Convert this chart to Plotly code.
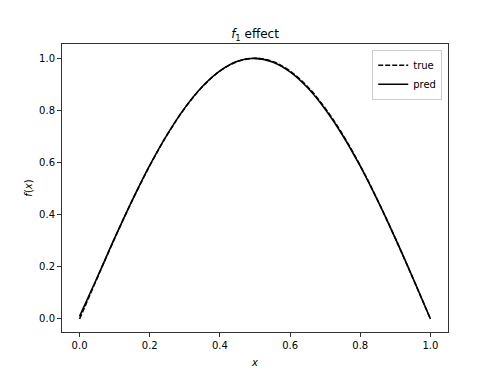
import plotly.graph_objects as go

x_vals = [0.0, 0.05, 0.1, 0.15, 0.2, 0.25, 0.3, 0.35, 0.4, 0.45, 0.5,
          0.55, 0.6, 0.65, 0.7, 0.75, 0.8, 0.85, 0.9, 0.95, 1.0]
true_vals = [0.0, 0.156, 0.309, 0.454, 0.588, 0.707, 0.809, 0.891, 0.951, 0.988, 1.0,
             0.988, 0.951, 0.891, 0.809, 0.707, 0.588, 0.454, 0.309, 0.156, 0.0]
pred_vals = [0.01, 0.158, 0.310, 0.455, 0.589, 0.708, 0.810, 0.892, 0.952, 0.989, 1.0,
             0.986, 0.948, 0.887, 0.805, 0.704, 0.586, 0.453, 0.309, 0.157, 0.0]
x_ticks = [0.0, 0.2, 0.4, 0.6, 0.8, 1.0]
y_ticks = [0.0, 0.2, 0.4, 0.6, 0.8, 1.0]

fig = go.Figure()
fig.add_trace(go.Scatter(x=x_vals, y=true_vals, mode="lines", name="true",
                         line=dict(color="black", width=1.6, dash="5px,2px", shape="spline")))
fig.add_trace(go.Scatter(x=x_vals, y=pred_vals, mode="lines", name="pred",
                         line=dict(color="black", width=1.6, shape="spline")))

axis_common = dict(showgrid=False, zeroline=False, showline=True, linecolor="#333333",
                   linewidth=1, mirror=True, ticks="outside", ticklen=4, tickwidth=1,
                   tickcolor="#333333", tickfont=dict(size=10, color="black"))
fig.update_layout(
    width=498, height=374,
    margin=dict(l=54, r=58, t=36, b=50),
    paper_bgcolor="white", plot_bgcolor="white",
    font=dict(family="DejaVu Sans", color="black"),
    title=dict(text="<i>f</i><sub>1</sub> effect", x=(54 + 193) / 498, xref="container", xanchor="center",
               y=1 - 26 / 374, yanchor="middle", font=dict(size=12)),
    xaxis=dict(range=[-0.05, 1.05], tickvals=x_ticks, ticktext=[f"{v:.1f}" for v in x_ticks],
               title=dict(text="<i>x</i>", font=dict(size=10), standoff=8), **axis_common),
    yaxis=dict(range=[-0.05, 1.055], tickvals=y_ticks, ticktext=[f"{v:.1f}" for v in y_ticks],
               title=dict(text="<i>f</i>(<i>x</i>)", font=dict(size=10), standoff=4), **axis_common),
    legend=dict(x=0.985, y=0.98, xanchor="right", yanchor="top", bgcolor="rgba(255,255,255,0.8)",
                bordercolor="#cccccc", borderwidth=1, font=dict(size=10), tracegroupgap=0,
                itemwidth=30),
)
fig.write_html("out.html")
